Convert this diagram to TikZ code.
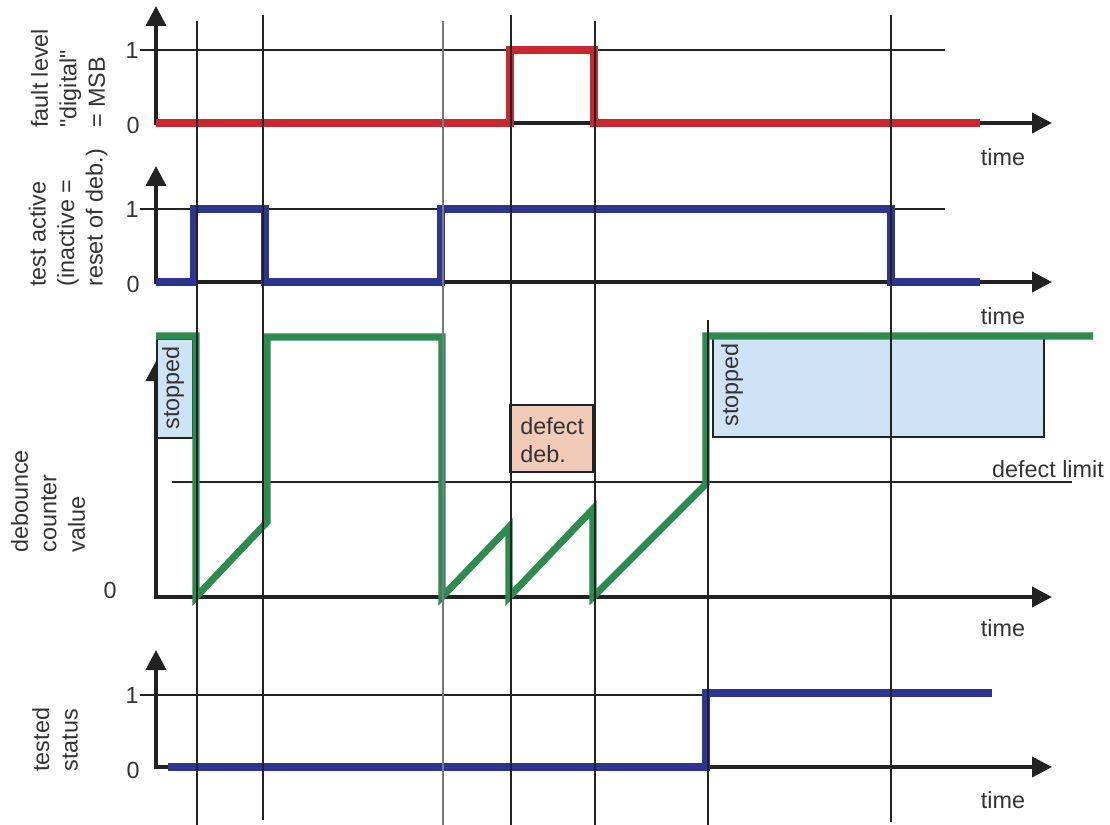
\documentclass[tikz,border=0pt]{standalone}
\usepackage{fontspec}
\setmainfont{Liberation Sans}[Ligatures=TeXOff]
\usetikzlibrary{arrows.meta}
\definecolor{sigred}{HTML}{C8282E}
\definecolor{sigblue}{HTML}{2E3591}
\definecolor{siggreen}{HTML}{2E8B4F}
\definecolor{boxblue}{HTML}{CFE3F6}
\definecolor{boxsalmon}{HTML}{F1CBB7}
\definecolor{ink}{HTML}{222222}
\definecolor{txt}{HTML}{333333}
\begin{document}
\begin{tikzpicture}[x=0.02cm,y=-0.02cm,
  axes/.style={ink, line width=2.2pt, line join=miter,
    {Triangle[length=0.4cm,width=0.4cm]}-{Triangle[length=0.4cm,width=0.4cm]}},
  level/.style={ink, line width=0.9pt},
  grid/.style={ink, line width=1pt},
  sig/.style={line width=4pt, line join=miter},
  lbl/.style={font=\fontsize{13.3}{16.2}\selectfont, text=txt, inner sep=0pt},
  side/.style={lbl, rotate=90, anchor=west, align=left},
  boxline/.style={draw=ink, line width=1.2pt}
]
\useasboundingbox (0,0) rectangle (1110,825);

% ---------- panel 1 : fault level ----------
\draw[level] (140,50) -- (945,50);
\draw[axes] (156,6) -- (156,123) -- (1052,123);
\node[lbl] (p1one) at (132,50) {1};
\node[lbl] (p1zero) at (133,125) {0};
\node[lbl] (p1time) at (1003,157) {time};
\node[side] (p1lab) at (68,128) {fault level\\"digital"\\= MSB};
\draw[sig, sigred] (156,123) -- (510,123) -- (510,50) -- (594,50) -- (594,123) -- (980,123);

% ---------- panel 2 : test active ----------
\draw[level] (140,209) -- (945,209);
\draw[axes] (156,166) -- (156,282) -- (1052,282);
\node[lbl] (p2one) at (132,209) {1};
\node[lbl] (p2zero) at (133,284) {0};
\node[lbl] (p2time) at (1003,316) {time};
\node[side] (p2lab) at (68,287) {test active\\(inactive =\\reset of deb.)};
\draw[sig, sigblue] (156,282) -- (194,282) -- (194,209) -- (265,209) -- (265,282)
  -- (441,282) -- (441,209) -- (891,209) -- (891,282) -- (980,282);

% ---------- panel 3 : debounce counter ----------
\draw[axes] (156,361) -- (156,597) -- (1052,597);
\draw[level] (172,482) -- (1072,482);
\node[lbl] (p3zero) at (110,590) {0};
\node[lbl] (p3time) at (1003,628) {time};
\node[lbl] (limit) at (1048,469) {defect limit};
\node[side] (p3lab) at (48,553) {debounce\\counter\\value};

\draw[boxline, fill=boxblue] (157,339) rectangle (193,438);
\node[lbl, rotate=90] (stop1) at (173,388) {stopped};
\draw[boxline, fill=boxblue] (713,337) rectangle (1044,437);
\node[lbl, rotate=90] (stop2) at (732,385) {stopped};
\draw[boxline, fill=boxsalmon] (510,405) rectangle (593,472);
\node[lbl, anchor=west, align=left] (defdeb) at (520,440) {defect\\deb.};

\draw[sig, siggreen] (156,336) -- (196,336) -- (196,597) -- (267,522) -- (267,337)
  -- (442,337) -- (442,597) -- (509,527) -- (509,597) -- (593,509) -- (593,597)
  -- (706,484) -- (706,336) -- (1093,336);

% ---------- panel 4 : tested status ----------
\draw[level] (140,695) -- (945,695);
\draw[axes] (156,650) -- (156,767) -- (1052,767);
\node[lbl] (p4one) at (132,695) {1};
\node[lbl] (p4zero) at (133,770) {0};
\node[lbl] (p4time) at (1003,800) {time};
\node[side] (p4lab) at (55,772) {tested\\status};
\draw[sig, sigblue] (168,767) -- (706,767) -- (706,693) -- (992,693);

% ---------- vertical time markers ----------
\draw[grid] (197,21) -- (197,825);
\draw[grid] (263,15) -- (263,820);
\draw[grid, ink!60] (443,21) -- (443,825);
\draw[grid] (511,15) -- (511,825);
\draw[grid] (595,21) -- (595,825);
\draw[grid] (708,320) -- (708,825);
\draw[grid] (891,15) -- (891,822);
\end{tikzpicture}
\end{document}
